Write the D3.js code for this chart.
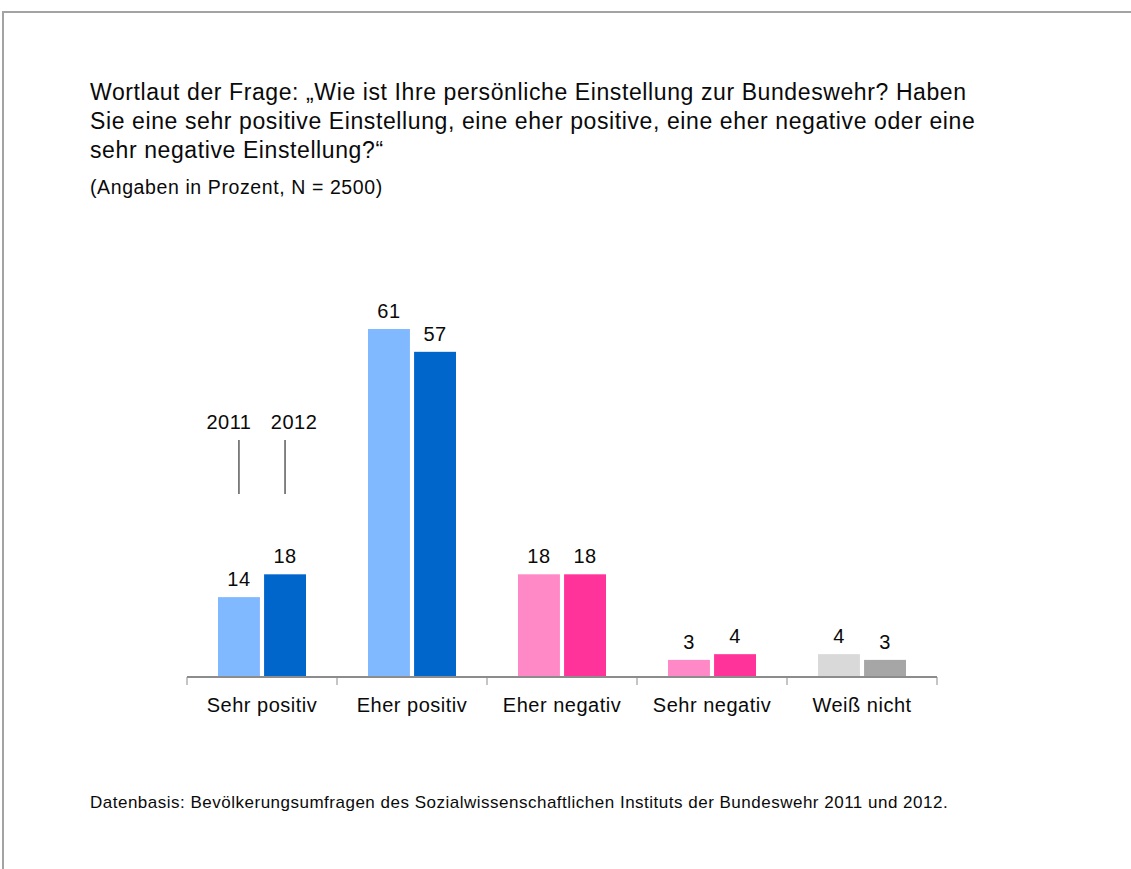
<!DOCTYPE html>
<html lang="de">
<head>
<meta charset="utf-8">
<title>Einstellung zur Bundeswehr</title>
<script src="https://cdn.jsdelivr.net/npm/d3@7"></script>
<style>
  body { margin: 0; background: #fff; }
  svg { display: block; font-family: "Liberation Sans", Arial, sans-serif; }
  svg text { letter-spacing: 0.5px; }
</style>
</head>
<body>
<script>
// data
var categories = ["Sehr positiv", "Eher positiv", "Eher negativ", "Sehr negativ", "Weiß nicht"];
var years = ["2011", "2012"];
var values2011 = [14, 61, 18, 3, 4];
var values2012 = [18, 57, 18, 4, 3];
var colors2011 = ["#80b9ff", "#80b9ff", "#ff88c6", "#ff88c6", "#d9d9d9"];
var colors2012 = ["#0066cc", "#0066cc", "#ff3399", "#ff3399", "#a6a6a6"];

var titleLines = [
  "Wortlaut der Frage: \u201EWie ist Ihre persönliche Einstellung zur Bundeswehr? Haben",
  "Sie eine sehr positive Einstellung, eine eher positive, eine eher negative oder eine",
  "sehr negative Einstellung?\u201C"
];
var subtitle = "(Angaben in Prozent, N = 2500)";
var footnote = "Datenbasis: Bevölkerungsumfragen des Sozialwissenschaftlichen Instituts der Bundeswehr 2011 und 2012.";

var width = 1131;
var height = 869;
var ink = "#0a0a0a";

var svg = d3.select("body")
  .append("svg")
  .attr("width", width)
  .attr("height", height);

// frame
svg.append("path")
  .attr("d", "M3,869 V12 H1131")
  .attr("fill", "none")
  .attr("stroke", "#a3a3a3")
  .attr("stroke-width", 2);

// title
svg.append("text")
  .attr("x", 90)
  .attr("y", 100)
  .attr("font-size", "23px")
  .attr("fill", ink)
  .style("letter-spacing", "0.6px")
  .selectAll("tspan")
  .data(titleLines)
  .enter()
  .append("tspan")
  .attr("x", 90)
  .attr("dy", function(d, i) { return i === 0 ? 0 : 29; })
  .text(function(d) { return d; });

svg.append("text")
  .attr("x", 90)
  .attr("y", 194)
  .attr("font-size", "19.5px")
  .attr("fill", ink)
  .style("letter-spacing", "0.6px")
  .text(subtitle);

// scales
var x = d3.scaleBand()
  .domain(categories)
  .range([187, 937]);

var xInner = d3.scaleBand()
  .domain(years)
  .range([x.bandwidth() / 2 - 44, x.bandwidth() / 2 + 44])
  .paddingInner(0.09);

var baseY = 677;
var y = d3.scaleLinear()
  .domain([0, 61])
  .range([baseY, 329]);

var rows = [];
categories.forEach(function(c, i) {
  rows.push({cat: c, year: "2011", value: values2011[i], color: colors2011[i]});
  rows.push({cat: c, year: "2012", value: values2012[i], color: colors2012[i]});
});

// bars
svg.selectAll("rect.bar")
  .data(rows)
  .enter()
  .append("rect")
  .attr("class", "bar")
  .attr("x", function(d) { return x(d.cat) + xInner(d.year); })
  .attr("y", function(d) { return y(d.value); })
  .attr("width", xInner.bandwidth())
  .attr("height", function(d) { return baseY - y(d.value); })
  .attr("fill", function(d) { return d.color; });

// value labels
svg.selectAll("text.val")
  .data(rows)
  .enter()
  .append("text")
  .attr("class", "val")
  .attr("x", function(d) { return x(d.cat) + xInner(d.year) + xInner.bandwidth() / 2; })
  .attr("y", function(d) { return y(d.value) - 11; })
  .attr("text-anchor", "middle")
  .attr("font-size", "20px")
  .attr("fill", ink)
  .text(function(d) { return d.value; });

// x axis
var xAxis = d3.axisBottom(x).tickSize(0).tickPadding(20.5);
var gx = svg.append("g")
  .attr("transform", "translate(0," + baseY + ")")
  .call(xAxis);
gx.select(".domain").remove();
gx.selectAll("text")
  .attr("font-size", "20px")
  .attr("fill", ink)
  .attr("font-family", "Liberation Sans, Arial, sans-serif");

gx.append("line")
  .attr("x1", 187).attr("x2", 937)
  .attr("y1", 0).attr("y2", 0)
  .attr("stroke", "#8c8c8c")
  .attr("stroke-width", 2);

gx.selectAll("line.tk")
  .data(categories.concat(["end"]))
  .enter()
  .append("line")
  .attr("class", "tk")
  .attr("x1", function(d) { return d === "end" ? 937 : x(d); })
  .attr("x2", function(d) { return d === "end" ? 937 : x(d); })
  .attr("y1", 0)
  .attr("y2", 8)
  .attr("stroke", "#8c8c8c")
  .attr("stroke-width", 1);

// year markers above first group
var first = categories[0];
years.forEach(function(yr, i) {
  var cx = x(first) + xInner(yr) + xInner.bandwidth() / 2;
  svg.append("line")
    .attr("x1", cx).attr("x2", cx)
    .attr("y1", 440).attr("y2", 494)
    .attr("stroke", ink)
    .attr("stroke-width", 1);
  svg.append("text")
    .attr("x", cx + (i === 0 ? -10 : 9))
    .attr("y", 429)
    .attr("text-anchor", "middle")
    .attr("font-size", "20px")
    .attr("fill", ink)
    .text(yr);
});

// footnote
svg.append("text")
  .attr("x", 90)
  .attr("y", 808)
  .attr("font-size", "17px")
  .attr("fill", ink)
  .style("letter-spacing", "0.5px")
  .text(footnote);
</script>
</body>
</html>
